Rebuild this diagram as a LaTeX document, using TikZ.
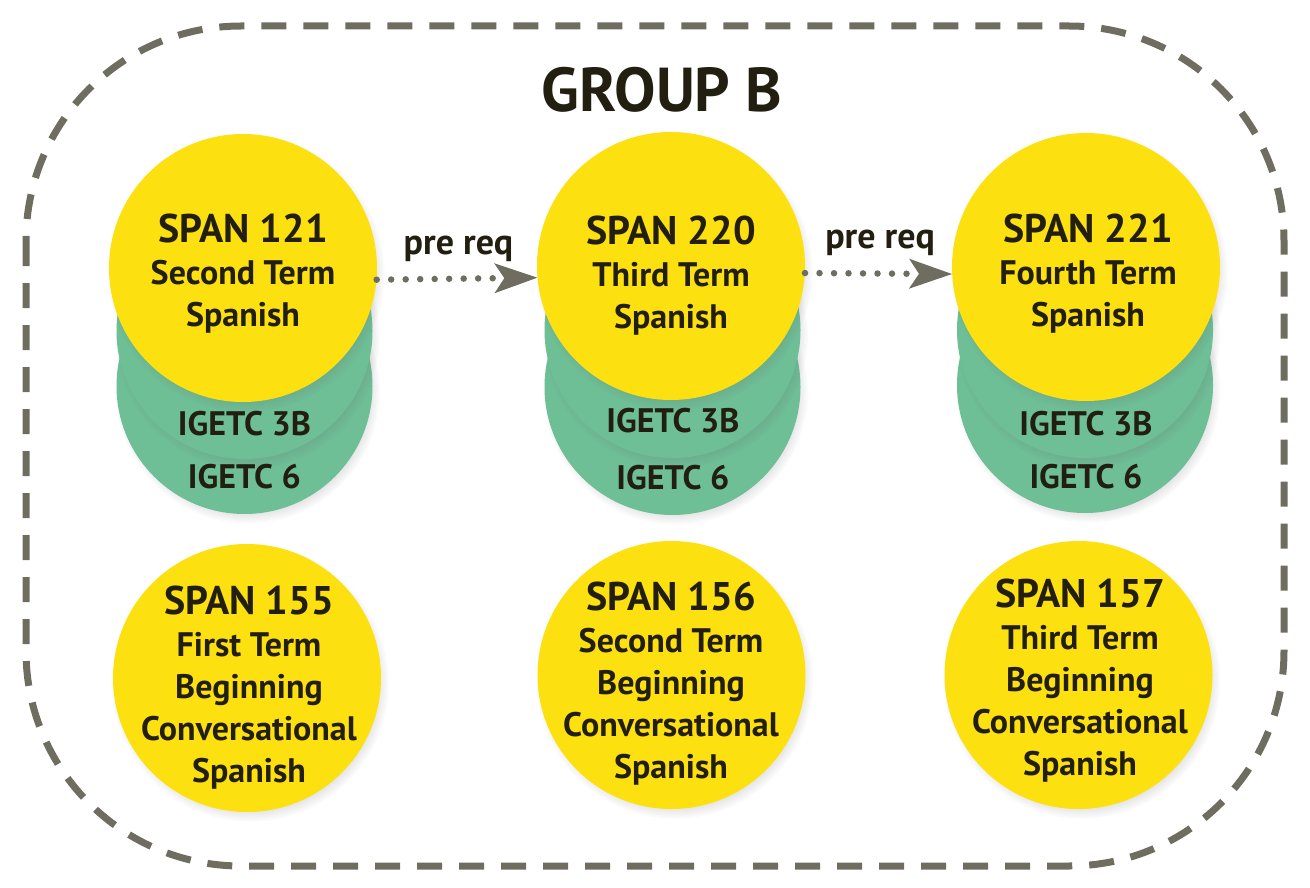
\documentclass[tikz,border=0pt]{standalone}
\usepackage{fontspec}
\setmainfont{PT Sans}
\usetikzlibrary{arrows.meta,shadows}
\definecolor{cyel}{HTML}{FDE010}
\definecolor{cgrn}{HTML}{6EBE96}
\definecolor{cgry}{HTML}{6E6D60}
\definecolor{ctxt}{HTML}{231F10}
\tikzset{
  softshadow/.style={circular drop shadow={shadow scale=1.035, shadow xshift=3pt, shadow yshift=-5pt, opacity=0.3, fill=black!60}},
  ybub/.style={circle, fill=cyel, minimum size=268pt, inner sep=0pt, softshadow},
  gbub/.style={circle, fill=cgrn, minimum size=256pt, inner sep=0pt, softshadow},
  lbl/.style={text=ctxt, font=\bfseries\fontsize{34}{42}\selectfont, align=center, inner sep=0pt},
  prq/.style={draw=cgry, line width=6.5pt, line cap=round, dash pattern=on 0pt off 14.5pt,
    -{Stealth[length=43pt, width=30pt, inset=10pt, line width=0pt]}},
  border/.style={draw=cgry, line width=7pt, dash pattern=on 25pt off 17pt, rounded corners=215pt},
}
\newcommand{\spanhd}[1]{{\fontsize{40}{42}\selectfont #1}}
\begin{document}
\begin{tikzpicture}[x=1pt,y=-1pt]
\useasboundingbox (0,0) rectangle (1310,888);
\draw[border] (26,26) rectangle (1284,866);
\node[text=ctxt, font=\bfseries\fontsize{62}{62}\selectfont, inner sep=0pt] (title) at (662,90) {GROUP B};
% column 1
\node[gbub] (g121b) at (244.5,386) {};
\node[gbub] (g121a) at (244.5,331) {};
\node[ybub] (y121) at (243,268) {};
% column 2
\node[gbub] (g220b) at (672.5,387) {};
\node[gbub] (g220a) at (672.5,330) {};
\node[ybub] (y220) at (671,266) {};
% column 3
\node[gbub] (g221b) at (1085,385) {};
\node[gbub] (g221a) at (1085,330) {};
\node[ybub] (y221) at (1086,267) {};
% bottom row
\node[ybub] (y155) at (247,678) {};
\node[ybub] (y156) at (671.5,675) {};
\node[ybub] (y157) at (1078.5,675) {};
% texts
\node[lbl] (t121) at (243,274) {\spanhd{SPAN 121}\\Second Term\\Spanish};
\node[lbl] (t220) at (671,276) {\spanhd{SPAN 220}\\Third Term\\Spanish};
\node[lbl] (t221) at (1088,274) {\spanhd{SPAN 221}\\Fourth Term\\Spanish};
\node[lbl] (i121a) at (244.5,424) {IGETC 3B};
\node[lbl] (i121b) at (244.5,477) {IGETC 6};
\node[lbl] (i220a) at (673,421) {IGETC 3B};
\node[lbl] (i220b) at (673,478) {IGETC 6};
\node[lbl] (i221a) at (1086,424) {IGETC 3B};
\node[lbl] (i221b) at (1086,477) {IGETC 6};
\node[lbl] (t155) at (249,688) {\spanhd{SPAN 155}\\First Term\\Beginning\\Conversational\\Spanish};
\node[lbl] (t156) at (671,684) {\spanhd{SPAN 156}\\Second Term\\Beginning\\Conversational\\Spanish};
\node[lbl] (t157) at (1080,681) {\spanhd{SPAN 157}\\Third Term\\Beginning\\Conversational\\Spanish};
% arrows
\draw[prq] (y121.-5) -- (y220.185);
\draw[prq] (y220.-3) -- (y221.183);
\node[lbl, font=\bfseries\fontsize{36}{42}\selectfont] (p1) at (458.5,248.5) {pre req};
\node[lbl, font=\bfseries\fontsize{36}{42}\selectfont] (p2) at (880,242.5) {pre req};
\end{tikzpicture}
\end{document}
